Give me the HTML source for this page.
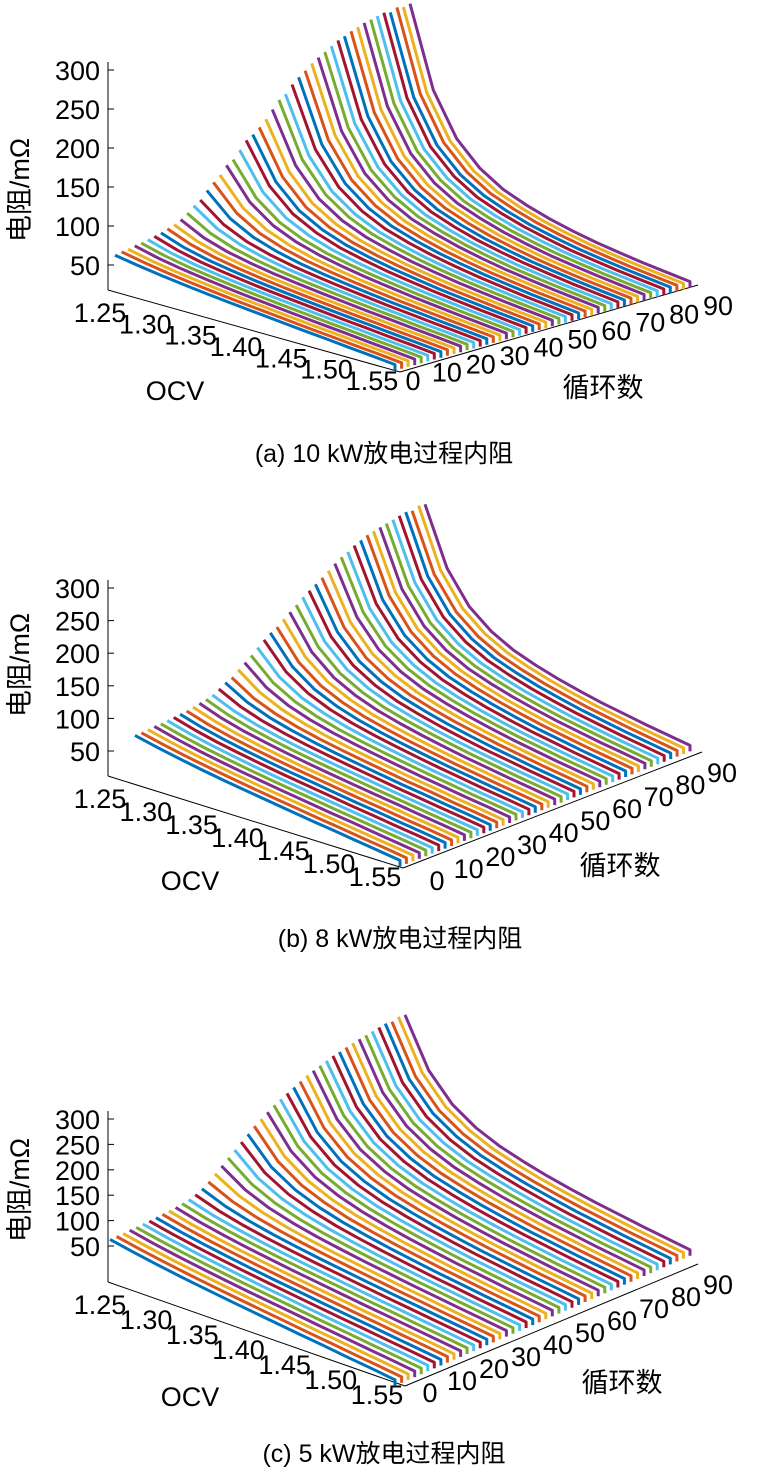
<!DOCTYPE html>
<html><head><meta charset="utf-8"><style>
body{margin:0;background:#fff;}
svg{display:block;font-family:"Liberation Sans","Noto Sans CJK SC",sans-serif;}
</style></head><body>
<svg id="chart" width="768" height="1484" viewBox="0 0 768 1484"></svg>
<script>
// ---- data ----
const cycles = [0,2,4,6,8,10,12,14,16,18,20,22,24,26,28,30,32,34,36,38,40,42,44,46,48,50,52,54,56,58,60,62,64,66,68,70,72,74,76,78,80,82,84,86,88,90];
const ocvPoints = [1.25,1.275,1.30,1.325,1.35,1.375,1.40,1.425,1.45,1.475,1.50,1.525,1.55];
const steepShape = [1,0.55,0.32,0.2,0.13,0.09,0.06,0.04,0.025,0.015,0.008,0.003,0];
const baseShape = [1,0.86,0.74,0.64,0.55,0.47,0.40,0.33,0.26,0.2,0.13,0.07,0];
const startRA = [60,62,63,65,66,68,70,72,75,78,82,88,95,100,110,118,125,135,140,150,160,165,172,180,190,200,205,215,222,228,235,240,245,250,255,258,262,265,268,270,272,274,272,276,274,276];
const startRB = [70,70,71,72,72,73,74,75,76,78,80,82,85,90,96,100,108,115,122,130,138,145,150,158,165,172,180,186,192,198,205,212,218,222,228,232,236,238,240,242,244,246,248,246,250,248];
const startRC = [72,72,72,73,73,74,74,75,76,77,78,80,82,86,92,100,110,120,130,140,150,160,170,178,186,194,200,206,212,218,224,228,232,236,240,242,245,248,250,252,254,256,258,256,260,258];
const endR = [30,30,30];
const lowR = [60,70,72];
const zTicks = [50,100,150,200,250,300];
const ocvTicks = ["1.25","1.30","1.35","1.40","1.45","1.50","1.55"];
const cycTicks = ["0","10","20","30","40","50","60","70","80","90"];
const colors = ["#0072BD","#D95319","#EDB120","#7E2F8E","#77AC30","#4DBEEE","#A2142F"];

const panels = [
 {name:"a", starts:startRA, base:[115,302], ocvVec:[280,86], cycVec:[295,-83], zs:0.78,
  zLab:[100,70,265], ocvL:[[100,322],[372,390]], ocvT:[175,400], cycL:[[413,390],[718,315]], cycT:[603,397], cap:[384,462,"(a) 10 kW放电过程内阻"], zTitle:[22,190]},
 {name:"b", starts:startRB, base:[135,781], ocvVec:[265,99], cycVec:[290,-115], zs:0.652,
  zLab:[100,588,751], ocvL:[[100,808],[375,886]], ocvT:[190,890], cycL:[[437,890],[722,782]], cycT:[620,875], cap:[400,947,"(b) 8 kW放电过程内阻"], zTitle:[22,665]},
 {name:"c", starts:startRC, base:[110,1276], ocvVec:[285,119], cycVec:[295,-130], zs:0.508,
  zLab:[100,1119,1246], ocvL:[[100,1314],[377,1404]], ocvT:[190,1406], cycL:[[430,1402],[718,1294]], cycT:[622,1392], cap:[384,1462,"(c) 5 kW放电过程内阻"], zTitle:[22,1190]}
];
const NS="http://www.w3.org/2000/svg";
const svg=document.getElementById('chart');
function mk(t,a,p){const e=document.createElementNS(NS,t);for(const k in a)e.setAttribute(k,a[k]);(p||svg).appendChild(e);return e;}
const FS=27;
panels.forEach((P,pi)=>{
  const g=mk('g',{});
  
  
  function proj(ocv,cyc,r){
    const fo=(ocv-1.25)/0.3, fc=cyc/90;
    return [P.base[0]+P.ocvVec[0]*fo+P.cycVec[0]*fc, P.base[1]+P.ocvVec[1]*fo+P.cycVec[1]*fc - r*P.zs];
  }
  const ax=mk('g',{stroke:'#000','stroke-width':1,fill:'none'},g);
  
  
  const zx=108, z300=P.zLab[1], z50=P.zLab[2], dz=(z50-z300)/5;
  const ocvStart=[P.ocvL[0][0]+8,P.ocvL[0][1]-32], ocvEnd=[P.ocvL[1][0]+28,P.ocvL[1][1]-18];
  mk('line',{x1:zx,y1:z300-8,x2:zx,y2:ocvStart[1]},ax);
  mk('line',{x1:zx,y1:ocvStart[1],x2:ocvEnd[0],y2:ocvEnd[1]},ax);
  const cEnd=[P.cycL[1][0]-20,P.cycL[1][1]-30];
  mk('line',{x1:ocvEnd[0],y1:ocvEnd[1],x2:cEnd[0],y2:cEnd[1]},ax);
  zTicks.forEach((v,i)=>{const y=z50-i*dz;mk('line',{x1:zx,y1:y,x2:zx+6,y2:y},ax);
    const t=mk('text',{x:P.zLab[0],y:y+10,'text-anchor':'end','font-size':FS,fill:'#000'},g);t.textContent=v;
    });
  ocvTicks.forEach((s,i)=>{const f=i/6;
    const x=P.ocvL[0][0]+(P.ocvL[1][0]-P.ocvL[0][0])*f, y=P.ocvL[0][1]+(P.ocvL[1][1]-P.ocvL[0][1])*f;
    const t=mk('text',{x:x,y:y,'text-anchor':'middle','font-size':FS,fill:'#000'},g);t.textContent=s;
    });
  cycTicks.forEach((s,i)=>{const f=i/9;
    const x=P.cycL[0][0]+(P.cycL[1][0]-P.cycL[0][0])*f, y=P.cycL[0][1]+(P.cycL[1][1]-P.cycL[0][1])*f;
    const t=mk('text',{x:x,y:y,'text-anchor':'middle','font-size':FS,fill:'#000'},g);t.textContent=s;
    });
  let t=mk('text',{x:P.ocvT[0],y:P.ocvT[1],'text-anchor':'middle','font-size':FS,fill:'#000'},g);t.textContent='OCV';
  
  t=mk('text',{x:P.cycT[0],y:P.cycT[1],'text-anchor':'middle','font-size':FS,fill:'#000'},g);t.textContent='循环数';
  
  t=mk('text',{x:P.zTitle[0],y:P.zTitle[1],'text-anchor':'middle','font-size':FS,fill:'#000',transform:`rotate(-90 ${P.zTitle[0]} ${P.zTitle[1]})`,'dominant-baseline':'middle'},g);t.textContent='电阻/mΩ';
  
  t=mk('text',{x:P.cap[0],y:P.cap[1],'text-anchor':'middle','font-size':25,fill:'#000'},g);t.textContent=P.cap[2];
  
  const cg=mk('g',{fill:'none','stroke-width':3,'stroke-linejoin':'round'},g);
  cycles.forEach((c,ci)=>{
    const s=P.starts[ci], lo=lowR[pi], en=endR[pi];
    const pts=ocvPoints.map((o,k)=>{const r=en+(lo-en)*baseShape[k]+(s-lo)*steepShape[k];return proj(o,c,r);});
    const last=pts[pts.length-1];
    pts.push([last[0],last[1]+6]);
    const pl=mk('polyline',{points:pts.map(p=>p[0].toFixed(1)+','+p[1].toFixed(1)).join(' '),stroke:colors[ci%colors.length]},cg);
    
    
  });
});
</script>
</body></html>
